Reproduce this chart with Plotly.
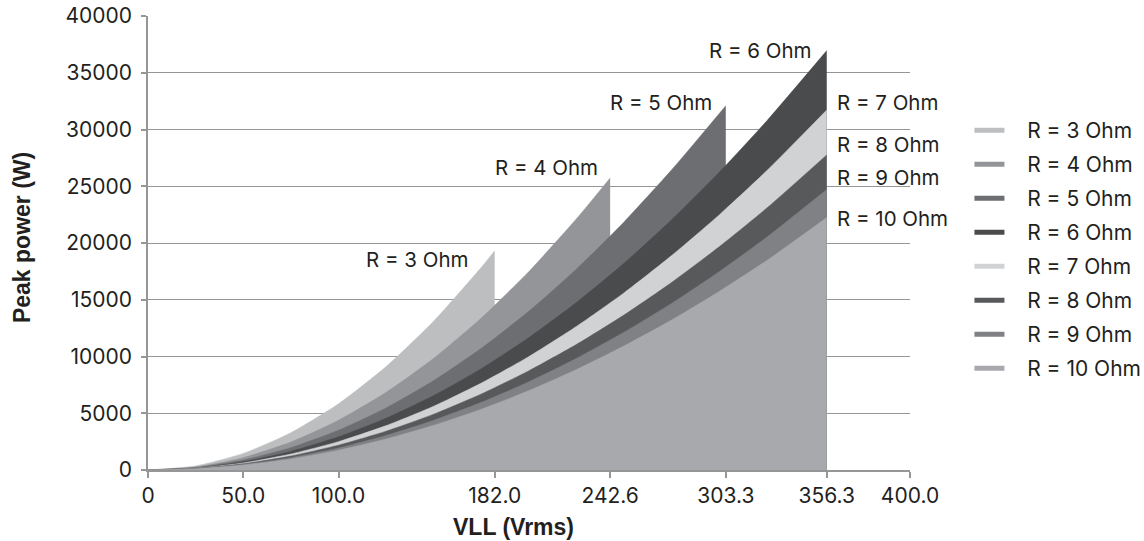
import plotly.graph_objects as go

# ---- data ----
series_names = ["R = 3 Ohm", "R = 4 Ohm", "R = 5 Ohm", "R = 6 Ohm",
                "R = 7 Ohm", "R = 8 Ohm", "R = 9 Ohm", "R = 10 Ohm"]

v_r3 = [0, 25, 50, 75, 100, 125, 150, 175, 182.0]
p_r3 = [0, 360, 1460, 3280, 5830, 9110, 13120, 17860, 19320]

v_r4 = [0, 25, 50, 75, 100, 125, 150, 175, 200, 225, 242.6]
p_r4 = [0, 270, 1090, 2460, 4380, 6840, 9840, 13400, 17500, 22150, 25730]

v_r5 = [0, 25, 50, 75, 100, 125, 150, 175, 200, 225, 250, 275, 303.3]
p_r5 = [0, 220, 880, 1970, 3500, 5470, 7880, 10720, 14000, 17720, 21880, 26470, 32100]

v_long = [0, 25, 50, 75, 100, 125, 150, 175, 200, 225, 250, 275, 300, 325, 356.3]
p_r6 = [0, 180, 730, 1640, 2920, 4560, 6560, 8930, 11670, 14770, 18230, 22060, 26250, 30800, 36950]
p_r7 = [0, 160, 620, 1410, 2500, 3910, 5620, 7660, 10000, 12660, 15620, 18910, 22500, 26400, 31720]
p_r8 = [0, 140, 550, 1230, 2190, 3420, 4920, 6700, 8750, 11070, 13670, 16540, 19690, 23100, 27760]
p_r9 = [0, 120, 490, 1090, 1940, 3040, 4380, 5960, 7780, 9840, 12150, 14700, 17500, 20540, 24710]
p_r10 = [0, 110, 440, 980, 1750, 2730, 3940, 5360, 7000, 8860, 10940, 13230, 15750, 18480, 22240]

x_tickvals = [0, 50, 100, 182.0, 242.6, 303.3, 356.3, 400]
x_ticktext = ["0", "50.0", "100.0", "182.0", "242.6", "303.3", "356.3", "400.0"]
y_tickvals = [0, 5000, 10000, 15000, 20000, 25000, 30000, 35000, 40000]
y_ticktext = ["0", "5000", "10000", "15000", "20000", "25000", "30000", "35000", "40000"]

series_x = [v_r3, v_r4, v_r5, v_long, v_long, v_long, v_long, v_long]
series_y = [p_r3, p_r4, p_r5, p_r6, p_r7, p_r8, p_r9, p_r10]

colors = ["#bcbec0", "#939598", "#6d6e71", "#4a4b4d",
          "#d1d2d4", "#58595b", "#808184", "#a7a9ac"]

# label placement (pixel offsets from each series' end point)
label_anchor = ["right", "right", "right", "right", "left", "left", "left", "left"]
label_dx = [-25, -10, -12, -13, 8, 8, 8, 8]
label_dy = [-9, 10, 3, 0, 7, 10, 12, -1]

TXT = "#231f20"
GRID = "#969696"
FONT = "Inter, DejaVu Sans, sans-serif"
TITLE_FONT = "Liberation Sans, Arial, sans-serif"
NB = "&nbsp;"

fig = go.Figure()

for name, xs, ys, c in zip(series_names, series_x, series_y, colors):
    fig.add_trace(go.Scatter(
        x=xs, y=ys, mode="lines", fill="tozeroy", fillcolor=c,
        line=dict(color=c, width=0.5, shape="spline", smoothing=0.6),
        name=name, showlegend=False, legendgroup=name, hoverinfo="x+y+name"))

for name, c in zip(series_names, colors):
    fig.add_trace(go.Scatter(
        x=[None], y=[None], mode="lines", line=dict(color=c, width=5),
        name=NB * 3 + name, legendgroup=name, showlegend=True))

for name, xs, ys, anc, dx, dy in zip(series_names, series_x, series_y,
                                    label_anchor, label_dx, label_dy):
    fig.add_annotation(
        x=xs[-1], y=ys[-1], xref="x", yref="y", text=name, showarrow=False,
        xanchor=anc, yanchor="middle", xshift=dx, yshift=dy,
        font=dict(family=FONT, size=20.5, color=TXT))

# axis titles
fig.add_annotation(x=0.4803, y=-0.1256, xref="paper", yref="paper",
                   text="<b>VLL (Vrms)</b>", showarrow=False,
                   xanchor="center", yanchor="middle",
                   font=dict(family=TITLE_FONT, size=23, color=TXT))
fig.add_annotation(x=-0.1654, y=0.513, xref="paper", yref="paper",
                   text="<b>Peak power (W)</b>", showarrow=False, textangle=-90,
                   xanchor="center", yanchor="middle",
                   font=dict(family=TITLE_FONT, size=23, color=TXT))

fig.update_layout(
    width=1144, height=541,
    margin=dict(l=148, r=234, t=16, b=71, pad=0, autoexpand=False),
    paper_bgcolor="white", plot_bgcolor="white",
    font=dict(family=FONT, size=21, color=TXT),
    showlegend=True,
    legend=dict(x=1.078, xanchor="left", y=0.793, yanchor="top",
                font=dict(family=FONT, size=21, color=TXT),
                tracegroupgap=3.7, bgcolor="rgba(0,0,0,0)"),
    xaxis=dict(range=[0, 400], tickvals=x_tickvals, ticktext=x_ticktext,
               showgrid=False, zeroline=False, showline=True, automargin=False,
               linecolor=GRID, linewidth=1.5, ticks="outside", ticklen=6,
               tickcolor=GRID, tickwidth=1.5,
               tickfont=dict(family=FONT, size=21, color=TXT)),
    yaxis=dict(range=[0, 40000], tickvals=y_tickvals, ticktext=y_ticktext,
               showgrid=True, gridcolor=GRID, gridwidth=1.2, automargin=False,
               zeroline=False, showline=True,
               linecolor=GRID, linewidth=1.5, ticks="outside", ticklen=5,
               tickcolor=GRID, tickwidth=1.5, ticklabelstandoff=5,
               tickfont=dict(family=FONT, size=21, color=TXT)),
)

fig.write_html("out.html", config={"displayModeBar": False},
               post_script="document.body.style.margin='0px';")
